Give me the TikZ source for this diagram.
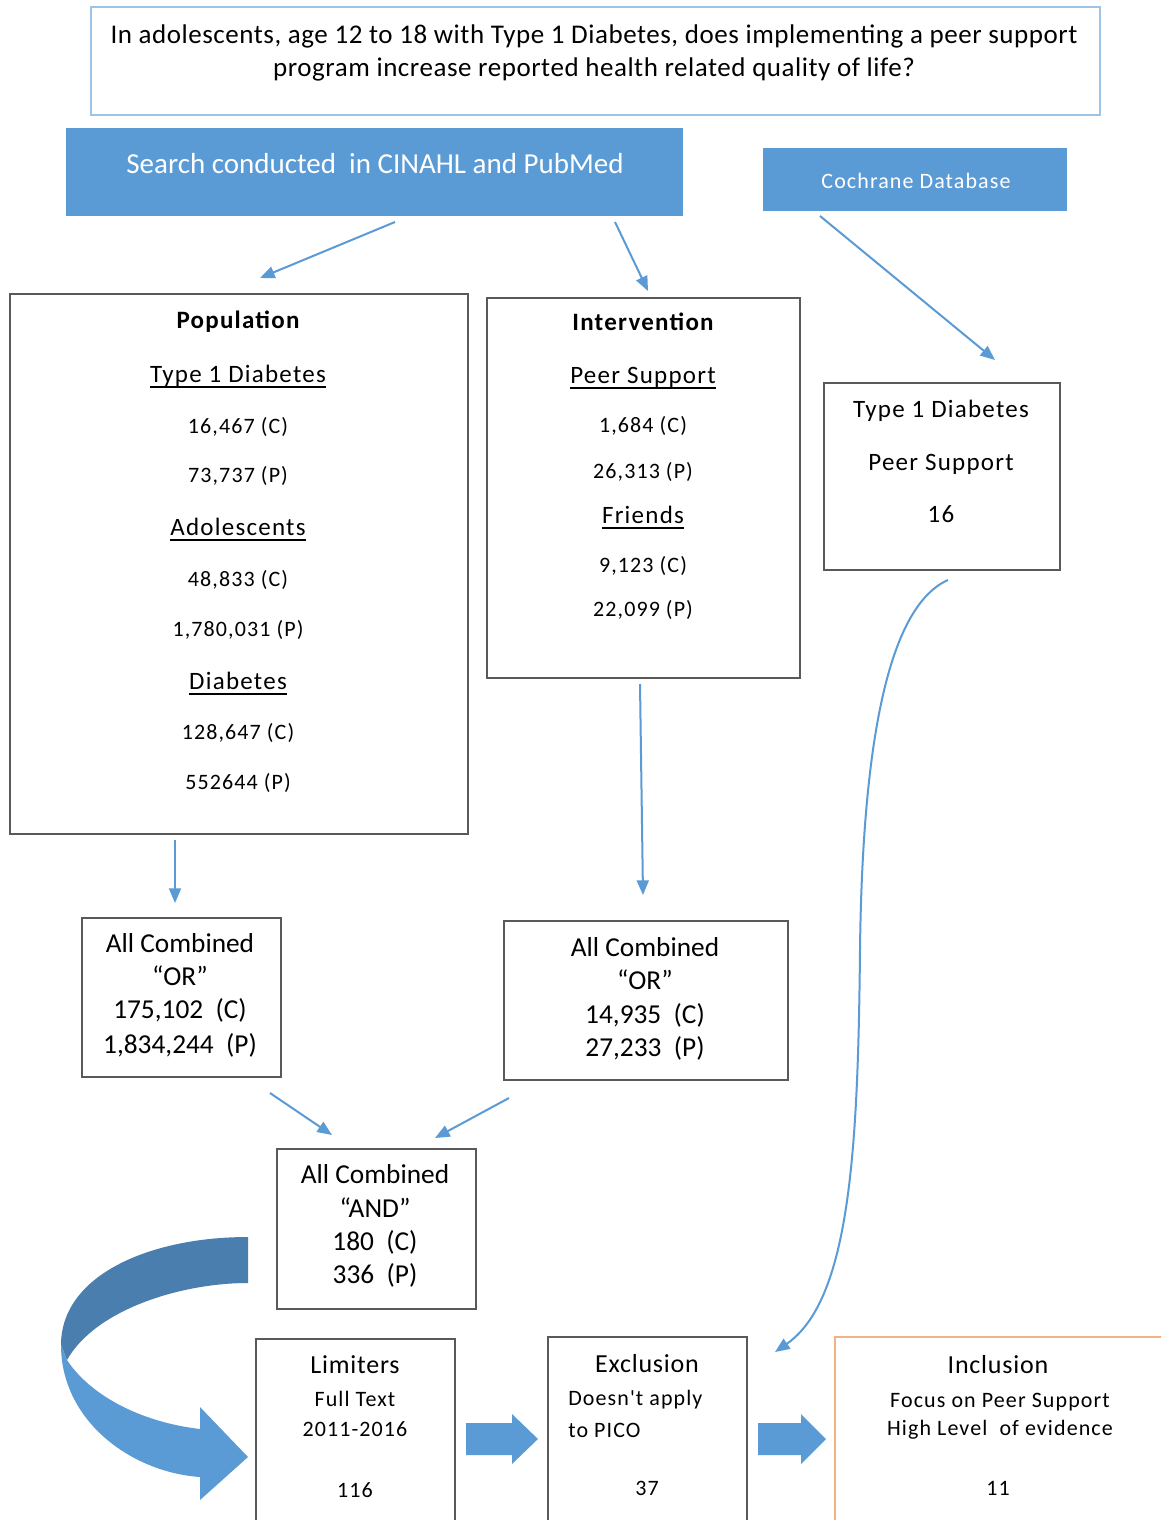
\documentclass[tikz,border=0pt]{standalone}
\usepackage{fontspec}
\setmainfont{Carlito}
\newfontfamily\spc[LetterSpace=5]{Carlito}
\newfontfamily\spcb[LetterSpace=3]{Carlito}
\newfontfamily\spct[LetterSpace=2]{Carlito}
\usetikzlibrary{arrows.meta,fit}
\definecolor{ablue}{HTML}{5B9BD5}
\definecolor{dblue}{HTML}{4A7EAE}
\definecolor{lblue}{HTML}{9DC3E6}
\definecolor{bgray}{HTML}{595959}
\definecolor{orng}{HTML}{F4B183}
\newcommand\ulx[1]{\setbox0\hbox{#1}\rlap{\rule[-0.24em]{\wd0}{0.08em}}\box0}
\newcommand\fhd{\spc\fontsize{18.75pt}{22pt}\selectfont}
\newcommand\fnm{\spc\fontsize{16.5pt}{20pt}\selectfont}
\newcommand\ftop{\spct\fontsize{20.25pt}{24pt}\selectfont}
\newcommand\fsr{\fontsize{21.75pt}{26pt}\selectfont}
\newcommand\fcb{\fontsize{20.5pt}{24pt}\selectfont}
\newcommand\fbt{\spcb\fontsize{19.5pt}{24pt}\selectfont}
\begin{document}
\begin{tikzpicture}[x=0.75pt,y=-0.75pt,
  box/.style={draw=bgray, line width=1.1pt, inner sep=0pt},
  t/.style={inner sep=0pt, anchor=base},
  tl/.style={inner sep=0pt, anchor=base west},
  arr/.style={draw=ablue, line width=1.5pt, -{Triangle[length=11pt,width=9pt]}}]
\useasboundingbox (0,0) rectangle (1161,1520);
\clip (0,0) rectangle (1161,1520);
\fill[white] (0,0) rectangle (1161,1520);

% boxes
\node[box, draw=lblue, line width=1.6pt, fit={(91,7)(1100,115)}] (top) {};
\node[inner sep=0pt, fill=ablue, fit={(66,128)(683,216)}] (search) {};
\node[inner sep=0pt, fill=ablue, fit={(763,148)(1067,211)}] (coch) {};
\node[box, fit={(10,294)(468,834)}] (pop) {};
\node[box, fit={(487,298)(800,678)}] (int) {};
\node[box, fit={(824,383)(1060,570)}] (cres) {};
\node[box, fit={(82,918)(281,1077)}] (orl) {};
\node[box, fit={(504,921)(788,1080)}] (orr) {};
\node[box, fit={(277,1149)(476,1309)}] (and) {};
\node[box, fit={(256,1339)(455,1540)}] (lim) {};
\node[box, fit={(548,1337)(747,1540)}] (exc) {};
\node[box, draw=orng, fit={(835,1337)(1180,1540)}] (inc) {};

% texts
\node[t] (q1) at (594,44) {\ftop In adolescents, age 12 to 18 with Type 1 Diabetes, does implementing a peer support};
\node[t] (q2) at (594,76) {\ftop program increase reported health related quality of life?};
\node[t, text=white] (st) at (375,173) {\fsr Search conducted\ \ in CINAHL and PubMed};
\node[t, text=white] (ct) at (916,188) {\fnm Cochrane Database};

\node[t] (p0) at (238,328) {\fhd\bfseries Population};
\node[t] (p1) at (238,382) {\fhd\ulx{Type 1 Diabetes}};
\node[t] (p2) at (238,433) {\fnm 16,467 (C)};
\node[t] (p3) at (238,482) {\fnm 73,737 (P)};
\node[t] (p4) at (238,535) {\fhd\ulx{Adolescents}};
\node[t] (p5) at (238,586) {\fnm 48,833 (C)};
\node[t] (p6) at (238,636) {\fnm 1,780,031 (P)};
\node[t] (p7) at (238,689) {\fhd\ulx{Diabetes}};
\node[t] (p8) at (238,739) {\fnm 128,647 (C)};
\node[t] (p9) at (238,789) {\fnm 552644 (P)};

\node[t] (i0) at (643,330) {\fhd\bfseries Intervention};
\node[t] (i1) at (643,383) {\fhd\ulx{Peer Support}};
\node[t] (i2) at (643,432) {\fnm 1,684 (C)};
\node[t] (i3) at (643,478) {\fnm 26,313 (P)};
\node[t] (i4) at (643,523) {\fhd\ulx{Friends}};
\node[t] (i5) at (643,572) {\fnm 9,123 (C)};
\node[t] (i6) at (643,616) {\fnm 22,099 (P)};

\node[t] (c1) at (941,417) {\fhd Type 1 Diabetes};
\node[t] (c2) at (941,470) {\fhd Peer Support};
\node[t] (c3) at (941,522) {\fhd 16};

\node[t] (ol1) at (180,952) {\fcb All Combined};
\node[t] (ol2) at (180,985) {\fcb ``OR''};
\node[t] (ol3) at (180,1018) {\fcb 175,102\ \ (C)};
\node[t] (ol4) at (180,1053) {\fcb 1,834,244\ \ (P)};

\node[t] (or1) at (645,956) {\fcb All Combined};
\node[t] (or2) at (645,989) {\fcb ``OR''};
\node[t] (or3) at (645,1023) {\fcb 14,935\ \ (C)};
\node[t] (or4) at (645,1056) {\fcb 27,233\ \ (P)};

\node[t] (a1) at (375,1183) {\fcb All Combined};
\node[t] (a2) at (375,1217) {\fcb ``AND''};
\node[t] (a3) at (375,1250) {\fcb 180\ \ (C)};
\node[t] (a4) at (375,1283) {\fcb 336\ \ (P)};

\node[t] (l1) at (355,1373) {\fbt Limiters};
\node[t] (l2) at (355,1406) {\fnm Full Text};
\node[t] (l3) at (355,1436) {\fnm 2011-2016};
\node[t] (l4) at (355,1497) {\fnm 116};

\node[t] (e1) at (647,1372) {\fbt Exclusion};
\node[tl] (e2) at (568,1405) {\fnm Doesn't apply};
\node[tl] (e3) at (568,1437) {\fnm to PICO};
\node[t] (e4) at (647,1495) {\fnm 37};

\node[t] (n1) at (998,1373) {\fbt Inclusion};
\node[t] (n2) at (1000,1407) {\fnm Focus on Peer Support};
\node[t] (n3) at (1000,1435) {\fnm High Level\ \ of evidence};
\node[t] (n4) at (998,1495) {\fnm 11};

% connector end points
\coordinate (s1) at (395,222); \coordinate (e1p) at (260,278);
\coordinate (s2) at (615,222); \coordinate (e2p) at (648,291);
\coordinate (s3) at (820,216); \coordinate (e3p) at (995,360);
\coordinate (s4) at (175,840); \coordinate (e4p) at (175,903);
\coordinate (s5) at (640,684); \coordinate (e5p) at (643,895);
\coordinate (s6) at (270,1093); \coordinate (e6p) at (332,1135);
\coordinate (s7) at (509,1098); \coordinate (e7p) at (435,1138);
\coordinate (s8) at (948,580); \coordinate (e8p) at (775,1352);

\draw[arr] (s1) -- (e1p);
\draw[arr] (s2) -- (e2p);
\draw[arr] (s3) -- (e3p);
\draw[arr] (s4) -- (e4p);
\draw[arr] (s5) -- (e5p);
\draw[arr] (s6) -- (e6p);
\draw[arr] (s7) -- (e7p);
\draw[arr] (s8) .. controls (880,610) and (862,780) .. (860,950)
  .. controls (858,1150) and (850,1300) .. (e8p);

% curved block arrow
\fill[dblue] (248,1237) .. controls (150,1237) and (61,1275) .. (61,1345)
  -- (67,1360) .. controls (95,1310) and (180,1283) .. (248,1283) -- cycle;
\fill[ablue] (61,1345) .. controls (61,1420) and (130,1472) .. (200,1477)
  -- (200,1500) -- (248,1457) -- (200,1407) -- (200,1429)
  .. controls (140,1422) and (90,1395) .. (67,1360) -- cycle;

% straight block arrows
\fill[ablue] (466,1423) -- (512,1423) -- (512,1414) -- (538,1439) -- (512,1464) -- (512,1455) -- (466,1455) -- cycle;
\fill[ablue] (758,1423) -- (801,1423) -- (801,1414) -- (826,1439) -- (801,1464) -- (801,1455) -- (758,1455) -- cycle;
\end{tikzpicture}
\end{document}
